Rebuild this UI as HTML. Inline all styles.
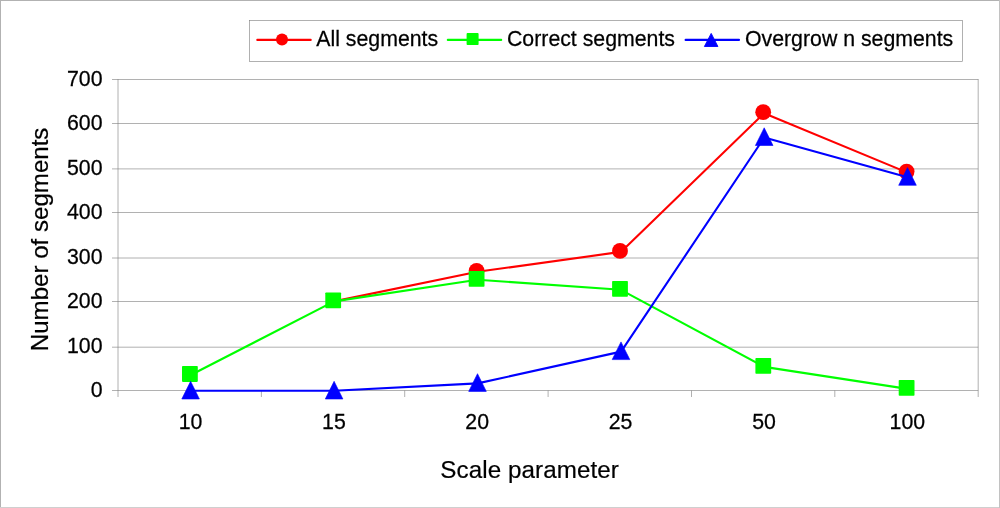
<!DOCTYPE html><html><head><meta charset="utf-8"><title>Chart</title>
<style>html,body{margin:0;padding:0;background:#fff;overflow:hidden}svg{display:block}text{font-family:"Liberation Sans",Arial,sans-serif;fill:#000}</style></head><body>
<svg width="1000" height="508" viewBox="0 0 1000 508">
<rect x="0" y="0" width="1000" height="508" fill="#fff"/>
<rect x="0" y="0" width="1000" height="1" fill="#b2b2b2"/><rect x="0" y="0" width="1" height="508" fill="#b2b2b2"/>
<rect x="0" y="507" width="1000" height="1" fill="#cfcfcf"/><rect x="999" y="0" width="1" height="508" fill="#c2c2c2"/>
<line x1="112" y1="79.5" x2="978.2" y2="79.5" stroke="#808080" stroke-width="0.62"/>
<line x1="112" y1="123.5" x2="978.2" y2="123.5" stroke="#808080" stroke-width="0.62"/>
<line x1="112" y1="168.9" x2="978.2" y2="168.9" stroke="#808080" stroke-width="0.62"/>
<line x1="112" y1="212.5" x2="978.2" y2="212.5" stroke="#808080" stroke-width="0.62"/>
<line x1="112" y1="258.0" x2="978.2" y2="258.0" stroke="#808080" stroke-width="0.62"/>
<line x1="112" y1="301.5" x2="978.2" y2="301.5" stroke="#808080" stroke-width="0.62"/>
<line x1="112" y1="347.2" x2="978.2" y2="347.2" stroke="#808080" stroke-width="0.62"/>
<line x1="112" y1="390.5" x2="978.2" y2="390.5" stroke="#808080" stroke-width="0.62"/>
<line x1="118.0" y1="79" x2="118.0" y2="397" stroke="#808080" stroke-width="0.62"/>
<line x1="978.2" y1="79" x2="978.2" y2="397" stroke="#808080" stroke-width="0.62"/>
<line x1="261.4" y1="390.5" x2="261.4" y2="397" stroke="#808080" stroke-width="0.62"/>
<line x1="404.7" y1="390.5" x2="404.7" y2="397" stroke="#808080" stroke-width="0.62"/>
<line x1="548.1" y1="390.5" x2="548.1" y2="397" stroke="#808080" stroke-width="0.62"/>
<line x1="691.5" y1="390.5" x2="691.5" y2="397" stroke="#808080" stroke-width="0.62"/>
<line x1="834.8" y1="390.5" x2="834.8" y2="397" stroke="#808080" stroke-width="0.62"/>
<text transform="translate(102.5,85.6) scale(1,1.07)" font-size="21.3" text-anchor="end" stroke="#000" stroke-width="0.25">700</text>
<text transform="translate(102.5,129.6) scale(1,1.07)" font-size="21.3" text-anchor="end" stroke="#000" stroke-width="0.25">600</text>
<text transform="translate(102.5,175.0) scale(1,1.07)" font-size="21.3" text-anchor="end" stroke="#000" stroke-width="0.25">500</text>
<text transform="translate(102.5,218.6) scale(1,1.07)" font-size="21.3" text-anchor="end" stroke="#000" stroke-width="0.25">400</text>
<text transform="translate(102.5,264.1) scale(1,1.07)" font-size="21.3" text-anchor="end" stroke="#000" stroke-width="0.25">300</text>
<text transform="translate(102.5,307.6) scale(1,1.07)" font-size="21.3" text-anchor="end" stroke="#000" stroke-width="0.25">200</text>
<text transform="translate(102.5,353.3) scale(1,1.07)" font-size="21.3" text-anchor="end" stroke="#000" stroke-width="0.25">100</text>
<text transform="translate(102.5,396.6) scale(1,1.07)" font-size="21.3" text-anchor="end" stroke="#000" stroke-width="0.25">0</text>
<text transform="translate(190.5,428.5) scale(1,1.07)" font-size="21.3" text-anchor="middle" stroke="#000" stroke-width="0.25">10</text>
<text transform="translate(333.9,428.5) scale(1,1.07)" font-size="21.3" text-anchor="middle" stroke="#000" stroke-width="0.25">15</text>
<text transform="translate(477.2,428.5) scale(1,1.07)" font-size="21.3" text-anchor="middle" stroke="#000" stroke-width="0.25">20</text>
<text transform="translate(620.6,428.5) scale(1,1.07)" font-size="21.3" text-anchor="middle" stroke="#000" stroke-width="0.25">25</text>
<text transform="translate(764.0,428.5) scale(1,1.07)" font-size="21.3" text-anchor="middle" stroke="#000" stroke-width="0.25">50</text>
<text transform="translate(907.3,428.5) scale(1,1.07)" font-size="21.3" text-anchor="middle" stroke="#000" stroke-width="0.25">100</text>
<text x="440.3" y="478" font-size="24.2" textLength="178.6" lengthAdjust="spacing" stroke="#000" stroke-width="0.2">Scale parameter</text>
<text transform="translate(48.4,239.4) rotate(-90)" font-size="24.1" text-anchor="middle" stroke="#000" stroke-width="0.2">Number of segments</text>
<polyline fill="none" stroke="#ff0000" stroke-width="2.1" stroke-linejoin="round" stroke-linecap="round" points="334.1,301.4 477.5,271.8 620.9,251.9 764.1,113.2 907.5,172.6"/>
<circle cx="476.6" cy="270.8" r="7.9" fill="#ff0000"/>
<circle cx="620.0" cy="250.9" r="7.9" fill="#ff0000"/>
<circle cx="763.2" cy="112.2" r="7.9" fill="#ff0000"/>
<circle cx="906.6" cy="171.6" r="7.9" fill="#ff0000"/>
<polyline fill="none" stroke="#00ff00" stroke-width="2.1" stroke-linejoin="round" stroke-linecap="round" points="190.8,375.0 334.1,301.4 477.5,279.8 620.9,289.8 764.2,366.9 907.5,388.9"/>
<rect x="182.0" y="366.1" width="15.8" height="15.8" rx="0.8" fill="#00ff00"/>
<rect x="325.3" y="292.5" width="15.8" height="15.8" rx="0.8" fill="#00ff00"/>
<rect x="468.7" y="270.9" width="15.8" height="15.8" rx="0.8" fill="#00ff00"/>
<rect x="612.1" y="280.9" width="15.8" height="15.8" rx="0.8" fill="#00ff00"/>
<rect x="755.4" y="358.0" width="15.8" height="15.8" rx="0.8" fill="#00ff00"/>
<rect x="898.7" y="380.0" width="15.8" height="15.8" rx="0.8" fill="#00ff00"/>
<polyline fill="none" stroke="#0000ff" stroke-width="2.1" stroke-linejoin="round" stroke-linecap="round" points="190.7,390.7 334.2,390.7 477.6,383.4 621.1,351.6 764.3,137.5 907.6,177.3"/>
<polygon points="190.6,381.3 199.4,399.0 181.8,399.0" fill="#0000ff" stroke="#0000ff" stroke-width="0.6" stroke-linejoin="round"/>
<polygon points="334.1,381.3 342.9,399.0 325.3,399.0" fill="#0000ff" stroke="#0000ff" stroke-width="0.6" stroke-linejoin="round"/>
<polygon points="477.5,373.7 486.3,391.4 468.7,391.4" fill="#0000ff" stroke="#0000ff" stroke-width="0.6" stroke-linejoin="round"/>
<polygon points="621.0,341.9 629.8,359.6 612.2,359.6" fill="#0000ff" stroke="#0000ff" stroke-width="0.6" stroke-linejoin="round"/>
<polygon points="764.2,127.8 773.0,145.5 755.4,145.5" fill="#0000ff" stroke="#0000ff" stroke-width="0.6" stroke-linejoin="round"/>
<polygon points="907.5,167.6 916.3,185.3 898.7,185.3" fill="#0000ff" stroke="#0000ff" stroke-width="0.6" stroke-linejoin="round"/>
<rect x="249.5" y="20.5" width="713" height="41" fill="#fff" stroke="#808080" stroke-width="0.62"/>
<line x1="257.3" y1="39.9" x2="310.7" y2="39.9" stroke="#ff0000" stroke-width="2.1" stroke-linecap="round"/><circle cx="282" cy="39.5" r="6" fill="#ff0000"/>
<text transform="translate(316.3,46.1) scale(1,1.01)" font-size="21.3" text-anchor="start" stroke="#000" stroke-width="0.25">All segments</text>
<line x1="447.8" y1="39.9" x2="501.2" y2="39.9" stroke="#00ff00" stroke-width="2.1" stroke-linecap="round"/><rect x="466.6" y="33.1" width="12" height="12" rx="0.8" fill="#00ff00"/>
<text transform="translate(507.0,46.1) scale(1,1.01)" font-size="21.3" text-anchor="start" stroke="#000" stroke-width="0.25">Correct segments</text>
<line x1="685.6" y1="39.9" x2="739" y2="39.9" stroke="#0000ff" stroke-width="2.1" stroke-linecap="round"/><polygon points="711.2,33.4 717.9,46.5 704.4,46.5" fill="#0000ff" stroke="#0000ff" stroke-width="0.9" stroke-linejoin="round"/>
<text transform="translate(745.0,46.1) scale(1,1.01)" font-size="21.3" text-anchor="start" stroke="#000" stroke-width="0.25">Overgrow n segments</text>
</svg></body></html>
